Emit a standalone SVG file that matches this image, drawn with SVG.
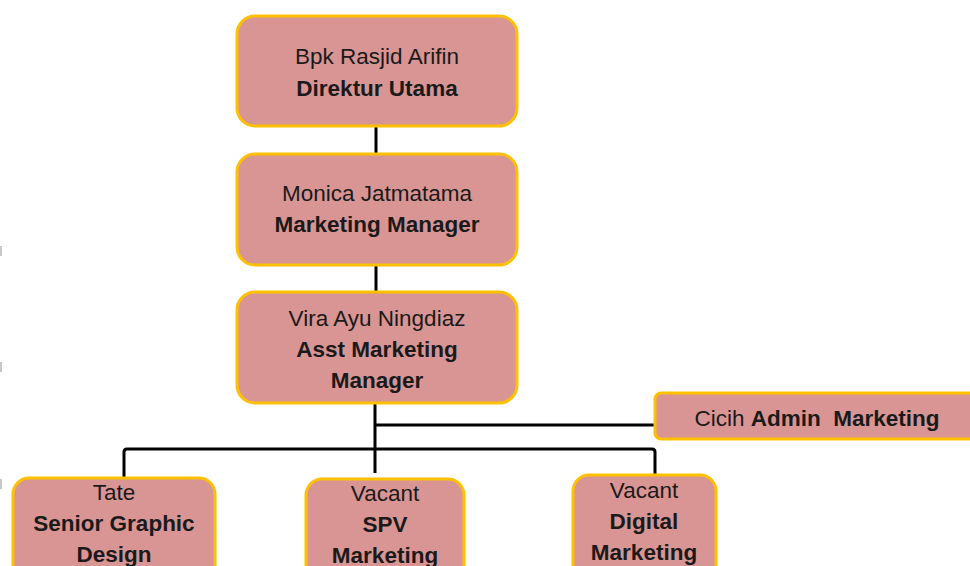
<svg xmlns="http://www.w3.org/2000/svg" width="970" height="566" viewBox="0 0 970 566">
<style>
.box{fill:#D99594;stroke:#FFC000;stroke-width:3}
.t{font-family:"Liberation Sans",Arial,sans-serif;font-size:22.5px;fill:#1a1a1a;text-anchor:middle}
.b{font-weight:bold}
.ln{fill:none;stroke:#000;stroke-width:3}
.tick{fill:#c8c8c8}
</style>
<rect class="tick" x="0" y="246" width="2" height="10"/>
<rect class="tick" x="0" y="362" width="2" height="10"/>
<rect class="tick" x="0" y="479" width="2" height="10"/>
<g id="connectors">
<line class="ln" x1="376" y1="126" x2="376" y2="154"/>
<line class="ln" x1="376" y1="265" x2="376" y2="292"/>
<line class="ln" x1="375" y1="403" x2="375" y2="473"/>
<line class="ln" x1="375" y1="425" x2="655" y2="425"/>
<path class="ln" d="M124 478 V452 Q124 449 127 449 H652 Q655 449 655 452 V476"/>
</g>
<g id="n1">
<rect class="box" x="237" y="16" width="280" height="110" rx="18"/>
<text class="t" x="377" y="64">Bpk Rasjid Arifin</text>
<text class="t b" x="377" y="96">Direktur Utama</text>
</g>
<g id="n2">
<rect class="box" x="237" y="154" width="280" height="111" rx="18"/>
<text class="t" x="377" y="201">Monica Jatmatama</text>
<text class="t b" x="377" y="232">Marketing Manager</text>
</g>
<g id="n3">
<rect class="box" x="237" y="292" width="280" height="111" rx="18"/>
<text class="t" x="377" y="326">Vira Ayu Ningdiaz</text>
<text class="t b" x="377" y="357">Asst Marketing</text>
<text class="t b" x="377" y="388">Manager</text>
</g>
<g id="n4">
<rect class="box" x="655" y="393" width="330" height="46" rx="6"/>
<text class="t" x="817" y="426" xml:space="preserve">Cicih <tspan class="b">Admin  Marketing</tspan></text>
</g>
<g id="n5">
<rect class="box" x="13" y="478" width="202" height="110" rx="16"/>
<text class="t" x="114" y="500">Tate</text>
<text class="t b" x="114" y="531">Senior Graphic</text>
<text class="t b" x="114" y="562">Design</text>
</g>
<g id="n6">
<rect class="box" x="306" y="479" width="158" height="110" rx="16"/>
<text class="t" x="385" y="501">Vacant</text>
<text class="t b" x="385" y="532">SPV</text>
<text class="t b" x="385" y="563">Marketing</text>
</g>
<g id="n7">
<rect class="box" x="573" y="475" width="143" height="110" rx="16"/>
<text class="t" x="644" y="498">Vacant</text>
<text class="t b" x="644" y="529">Digital</text>
<text class="t b" x="644" y="560">Marketing</text>
</g>
</svg>
